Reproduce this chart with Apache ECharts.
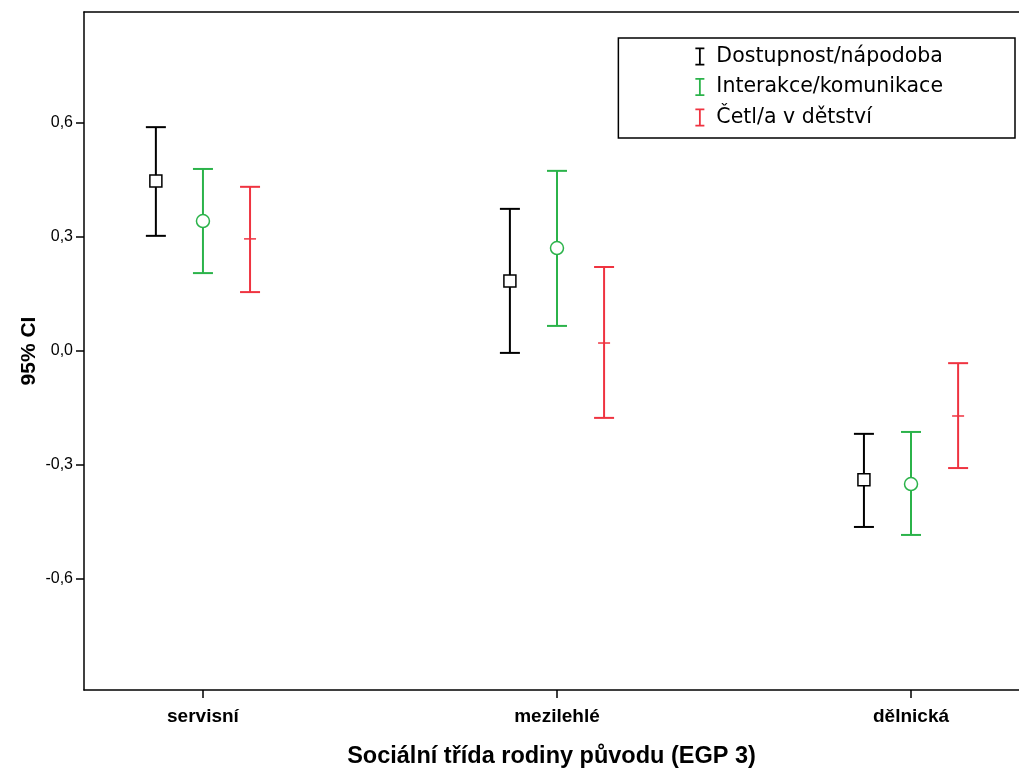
<!DOCTYPE html>
<html>
<head>
<meta charset="utf-8">
<script src="https://cdn.jsdelivr.net/npm/echarts@6/dist/echarts.min.js"></script>
<style>html,body{margin:0;padding:0;background:#fff}#c{width:1019px;height:769px}</style>
</head>
<body>
<div id="c"></div>
<script>
const categories = ['servisní', 'mezilehlé', 'dělnická'];
const seriesNames = ['Dostupnost/nápodoba', 'Interakce/komunikace', 'Četl/a v dětství'];
const yTicks = [-0.6, -0.3, 0, 0.3, 0.6];

// mean, lower and upper 95% CI bounds per category
const dostupnostMean = [0.447, 0.184, -0.339];
const dostupnostLow  = [0.303, -0.005, -0.463];
const dostupnostHigh = [0.589, 0.374, -0.218];

const interakceMean = [0.342, 0.271, -0.350];
const interakceLow  = [0.205, 0.066, -0.484];
const interakceHigh = [0.479, 0.474, -0.213];

const cetlMean = [0.295, 0.021, -0.171];
const cetlLow  = [0.155, -0.176, -0.308];
const cetlHigh = [0.432, 0.221, -0.032];

const colors = ['#000000', '#2bb34a', '#ef3340'];
const markers = ['square', 'circle', 'dash'];
const offsets = [-0.133, 0, 0.133];

const groups = [
  [dostupnostMean, dostupnostLow, dostupnostHigh],
  [interakceMean, interakceLow, interakceHigh],
  [cetlMean, cetlLow, cetlHigh]
];

function makeRender(si) {
  return function (params, api) {
    const x = api.value(0);
    const lo = api.coord([x, api.value(1)]);
    const hi = api.coord([x, api.value(2)]);
    const mn = api.coord([x, api.value(3)]);
    const c = colors[si];
    const cap = 10;
    const st = { stroke: c, lineWidth: 2, fill: null };
    const children = [
      { type: 'line', shape: { x1: hi[0], y1: hi[1], x2: lo[0], y2: lo[1] }, style: st },
      { type: 'line', shape: { x1: hi[0] - cap, y1: hi[1], x2: hi[0] + cap, y2: hi[1] }, style: st },
      { type: 'line', shape: { x1: lo[0] - cap, y1: lo[1], x2: lo[0] + cap, y2: lo[1] }, style: st }
    ];
    const m = markers[si];
    if (m === 'square') {
      children.push({ type: 'rect', shape: { x: mn[0] - 6, y: mn[1] - 6, width: 12, height: 12 }, style: { stroke: c, lineWidth: 1.5, fill: '#fff' } });
    } else if (m === 'circle') {
      children.push({ type: 'circle', shape: { cx: mn[0], cy: mn[1], r: 6.5 }, style: { stroke: c, lineWidth: 1.5, fill: '#fff' } });
    } else {
      children.push({ type: 'line', shape: { x1: mn[0] - 6, y1: mn[1], x2: mn[0] + 6, y2: mn[1] }, style: { stroke: c, lineWidth: 1.5 } });
    }
    return { type: 'group', children: children };
  };
}

const series = groups.map(function (g, si) {
  return {
    name: seriesNames[si],
    type: 'custom',
    renderItem: makeRender(si),
    itemStyle: { color: colors[si] },
    encode: { x: 0, y: [1, 2] },
    data: categories.map(function (_, ci) {
      return [ci + 1 + offsets[si], g[1][ci], g[2][ci], g[0][ci]];
    }),
    clip: false
  };
});

const iconPath = 'path://M0,0 L10,0 L10,2 L6,2 L6,18 L10,18 L10,20 L0,20 L0,18 L4,18 L4,2 L0,2 Z';

const chart = echarts.init(document.getElementById('c'), null, { renderer: 'canvas' });
chart.setOption({
  animation: false,
  backgroundColor: '#ffffff',
  grid: { left: 84, right: 0, top: 12, bottom: 79, containLabel: false, outerBoundsMode: 'none' },
  legend: {
    show: true,
    orient: 'vertical',
    right: 4,
    top: 38,
    padding: [8, 72, 10, 77],
    itemGap: 9.5,
    itemWidth: 11,
    itemHeight: 18,
    borderColor: '#000',
    borderWidth: 1.5,
    data: seriesNames.map(function (n) { return { name: n, icon: iconPath }; }),
    textStyle: { fontFamily: 'DejaVu Sans, sans-serif', fontSize: 20.5, color: '#000', padding: [0, 0, 0, 6] },
    selectedMode: false
  },
  xAxis: [{
    type: 'value',
    min: 0.664,
    max: 3.305,
    splitLine: { show: false },
    axisLine: { show: true, onZero: false, lineStyle: { color: '#000', width: 1.5 } },
    axisTick: { show: true, customValues: [1, 2, 3], length: 8, lineStyle: { color: '#000', width: 1.5 } },
    axisLabel: {
      customValues: [1, 2, 3],
      margin: 17,
      formatter: function (v) { return categories[Math.round(v) - 1] || ''; },
      fontFamily: 'Liberation Sans, Arial, sans-serif',
      fontWeight: 'bold',
      fontSize: 19,
      color: '#000'
    },
    name: 'Sociální třída rodiny původu (EGP 3)',
    nameLocation: 'middle',
    nameGap: 55,
    nameMoveOverlap: false,
    nameTextStyle: { fontFamily: 'Liberation Sans, Arial, sans-serif', fontWeight: 'bold', fontSize: 23.5, color: '#000' }
  }, {
    type: 'value',
    position: 'top',
    min: 0.664,
    max: 3.305,
    splitLine: { show: false },
    axisLine: { show: true, onZero: false, lineStyle: { color: '#000', width: 1.5 } },
    axisTick: { show: false },
    axisLabel: { show: false }
  }],
  yAxis: {
    type: 'value',
    min: -0.892,
    max: 0.892,
    splitLine: { show: false },
    axisLine: { show: true, onZero: false, lineStyle: { color: '#000', width: 1.5 } },
    axisTick: { show: true, customValues: yTicks, length: 8, lineStyle: { color: '#000', width: 1.5 } },
    axisLabel: {
      customValues: yTicks,
      margin: 11,
      formatter: function (v) { return v.toFixed(1).replace('.', ','); },
      fontFamily: 'Liberation Sans, Arial, sans-serif',
      fontSize: 16,
      color: '#000'
    },
    name: '95% CI',
    nameLocation: 'middle',
    nameGap: 44,
    nameMoveOverlap: false,
    nameRotate: 90,
    nameTextStyle: { fontFamily: 'Liberation Sans, Arial, sans-serif', fontWeight: 'bold', fontSize: 21, color: '#000' }
  },
  series: series
});
</script>
</body>
</html>
